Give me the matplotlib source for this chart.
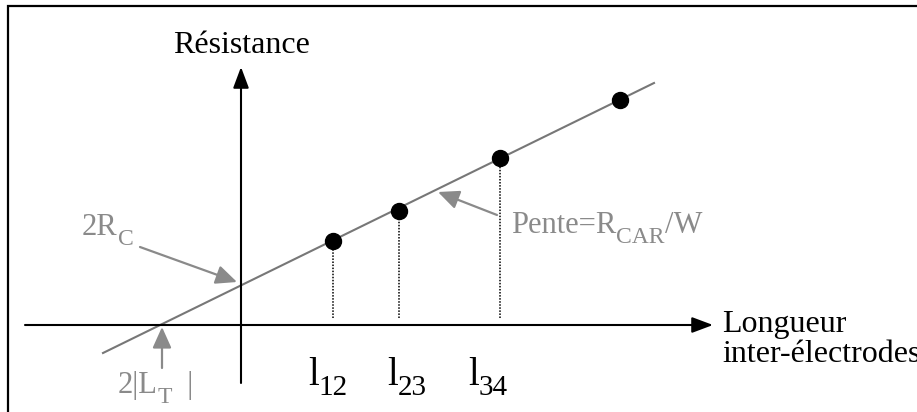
import matplotlib
matplotlib.use("Agg")
import matplotlib.pyplot as plt
from matplotlib.patches import Rectangle
from matplotlib.transforms import IdentityTransform

plt.rcParams["font.family"] = "Liberation Serif"

# mesures : longueur inter-electrodes / resistance (unites arbitraires)
longueurs = [0.92, 1.58, 2.59, 3.79]
resistances = [0.84, 1.14, 1.67, 2.25]
indices_longueurs = ["12", "23", "34"]

# droite d'ajustement (extremites)
droite_x = [-1.38, 4.13]
droite_y = [-0.28, 2.42]

# intersections avec les axes
x_LT = -0.79   # 2|LT|
y_RC = 0.40    # 2Rc

gris = "#8a8a8a"
fs = 23

fig = plt.figure(figsize=(9.17, 4.12), dpi=100)
ax = fig.add_axes([0, 0, 1, 1])
ax.set_xlim(-2.41, 6.76)
ax.set_ylim(-0.87, 3.25)
ax.axis("off")
rend = fig.canvas.get_renderer()


def ecrire(x, y, morceaux, taille, taille_ind, couleur="black", centre=False, chute=10):
    """Texte avec indices : morceaux = [(texte, est_indice), ...]"""
    x0, y0 = ax.transData.transform((x, y))
    textes = []
    cx = x0
    for s, ind in morceaux:
        t = ax.text(cx, y0 - (chute if ind else 0), s, transform=IdentityTransform(),
                    fontsize=taille_ind if ind else taille, color=couleur,
                    ha="left", va="baseline")
        cx += t.get_window_extent(renderer=rend).width
        textes.append(t)
    if centre:
        dx = (cx - x0) / 2
        for t in textes:
            px, py = t.get_position()
            t.set_position((px - dx, py))


# cadre
fig.patches.append(Rectangle((8 / 917, -0.2), 1.2, 1.2 - 6 / 412, transform=fig.transFigure,
                             fill=False, edgecolor="black", linewidth=1.6))

# axes avec fleches
fleche_axe = dict(arrowstyle="-|>,head_length=0.4,head_width=0.15", color="black",
                  lw=1.5, mutation_scale=32, shrinkA=0, shrinkB=0)
ax.annotate("", xy=(0, 2.58), xytext=(0, -0.58), arrowprops=fleche_axe)
ax.annotate("", xy=(4.72, 0), xytext=(-2.16, 0), arrowprops=fleche_axe)

ax.text(0, 2.72, "Résistance", ha="center", va="baseline", fontsize=fs)
ax.text(4.81, -0.07, "Longueur", ha="left", va="baseline", fontsize=fs)
ax.text(4.81, -0.37, "inter-électrodes", ha="left", va="baseline", fontsize=fs)

# droite et points de mesure
ax.plot(droite_x, droite_y, color="#777777", lw=1.5, zorder=2)
for x, y in zip(longueurs[:3], resistances[:3]):
    ax.plot([x, x], [0.07, y], color="black", lw=1.1, linestyle=(0, (1, 1)), zorder=1)
ax.plot(longueurs, resistances, "o", color="black", markersize=11.5, zorder=3)

# etiquettes l12, l23, l34 sous les pointilles
decalages = [-0.05, 0.08, -0.12]
for x, d, ind in zip(longueurs[:3], decalages, indices_longueurs):
    ecrire(x + d, -0.60, [("l", False), (ind, True)], 28, 21, centre=True)

# annotations en gris
fleche = dict(arrowstyle="-|>,head_length=0.4,head_width=0.18", color=gris,
              lw=1.6, mutation_scale=32, shrinkA=0, shrinkB=0)
ax.annotate("", xy=(-0.04, y_RC + 0.03), xytext=(-1.01, 0.78), arrowprops=fleche)
ecrire(-1.59, 0.90, [("2R", False), ("C", True)], 22, 17, gris)

ax.annotate("", xy=(x_LT, -0.02), xytext=(x_LT, -0.43), arrowprops=fleche)
ecrire(-1.23, -0.68, [("2|L", False), ("T", True), ("  |", False)], 22, 17, gris)

ax.annotate("", xy=(1.97, 1.33), xytext=(2.56, 1.10), arrowprops=fleche)
ecrire(2.70, 0.92, [("Pente=R", False), ("CAR", True), ("/W", False)], 22, 17, gris)

fig.savefig("out.png", dpi=100)
